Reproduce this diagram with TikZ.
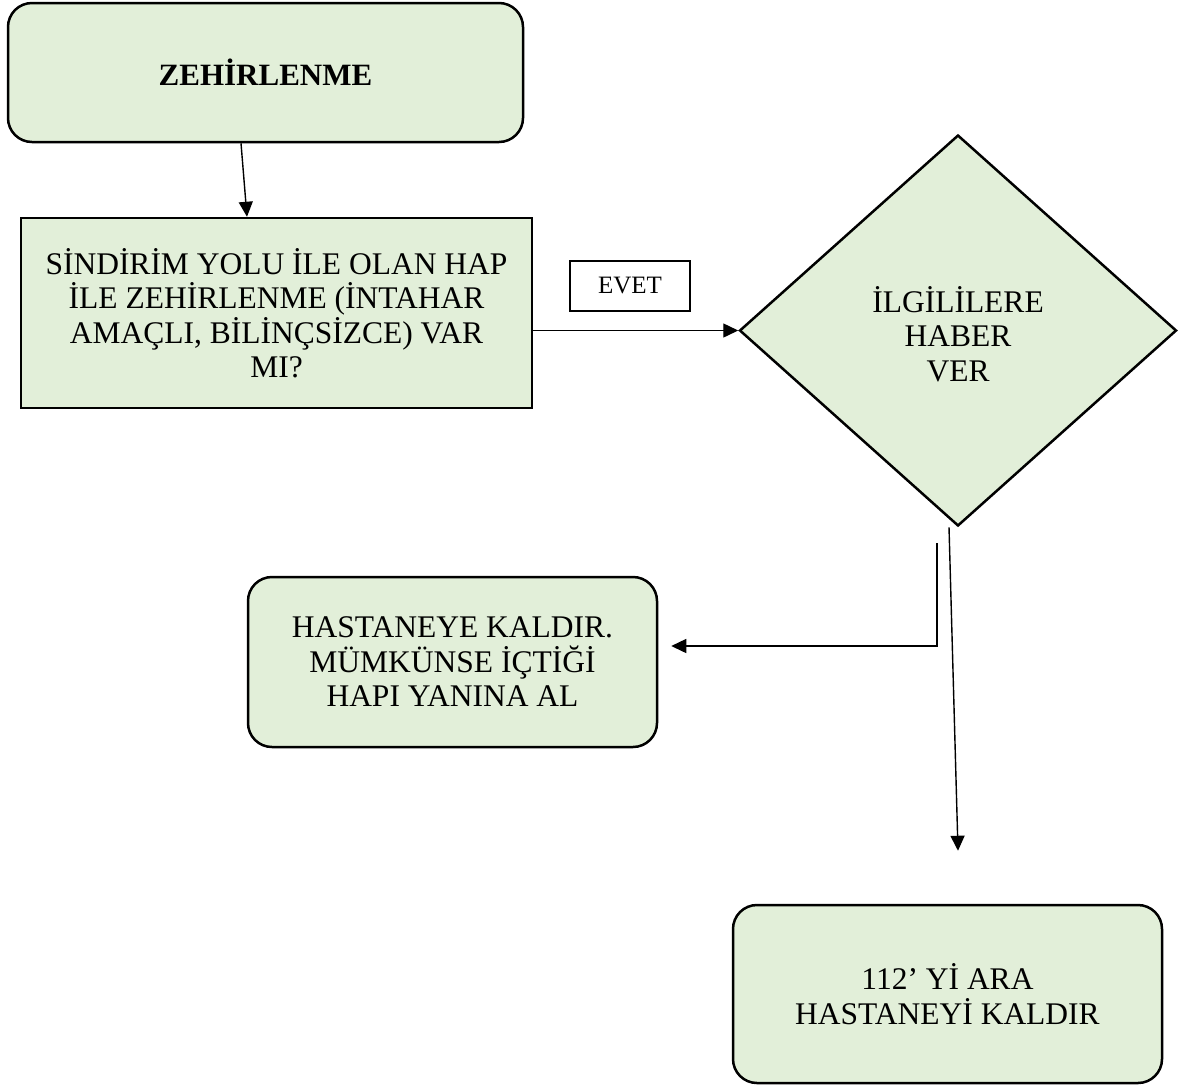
\documentclass[tikz,border=0pt]{standalone}
\usepackage{fontspec}
\setmainfont{Liberation Serif}
\usetikzlibrary{shapes.geometric,arrows.meta}
\definecolor{boxgreen}{HTML}{E2EFD9}
\tikzset{
  box/.style={draw=black, line width=2.5pt, fill=boxgreen, align=center, inner sep=0pt,
    font=\fontsize{31.5}{34.5}\selectfont},
  rbox/.style={box, rounded corners=24pt},
  sbox/.style={box},
  dbox/.style={box, diamond, minimum width=437pt, minimum height=391pt},
  lbl/.style={draw=black, line width=2pt, fill=white, minimum width=120pt, minimum height=50pt,
    inner sep=0pt, font=\fontsize{25}{28}\selectfont},
  arr/.style={line width=1.4pt, -{Triangle[length=15pt,width=14pt]}}
}
\begin{document}
\begin{tikzpicture}[x=1pt,y=-1pt]
\useasboundingbox (0,0) rectangle (1198,1088);
\node[rbox, minimum width=515pt, minimum height=139pt, font=\fontsize{31}{34}\selectfont\bfseries] (z) at (265.5,72.5) {ZEHİRLENME};
\node[sbox, minimum width=511pt, minimum height=190pt] (s) at (276.5,313)
  {SİNDİRİM YOLU İLE OLAN HAP\\İLE ZEHİRLENME (İNTAHAR\\AMAÇLI, BİLİNÇSİZCE) VAR\\MI?};
\node[lbl] (e) at (630,285.5) {EVET};
\node[dbox] (d) at (958,330.5) {};
\node[font=\fontsize{31.5}{34.5}\selectfont, align=center] (dt) at (958,334) {İLGİLİLERE\\HABER\\VER};
\node[rbox, minimum width=409pt, minimum height=170pt] (h) at (452.5,662) {HASTANEYE KALDIR.\\MÜMKÜNSE İÇTİĞİ\\HAPI YANINA AL};
\node[rbox, minimum width=429pt, minimum height=178pt] (c) at (947.5,994) {112’ Yİ ARA\\HASTANEYİ KALDIR};
\draw[arr] ([xshift=-24.5pt]z.south) -- ([xshift=-29.5pt]s.north);
\draw[arr] (s.east |- d.west) -- (d.west);
\draw[arr] ([xshift=-21pt,yshift=-16pt]d.south) |- ([xshift=13pt,yshift=16pt]h.east);
\draw[arr] ([xshift=-9pt]d.south) -- ([xshift=10.5pt,yshift=53pt]c.north);
\end{tikzpicture}
\end{document}
